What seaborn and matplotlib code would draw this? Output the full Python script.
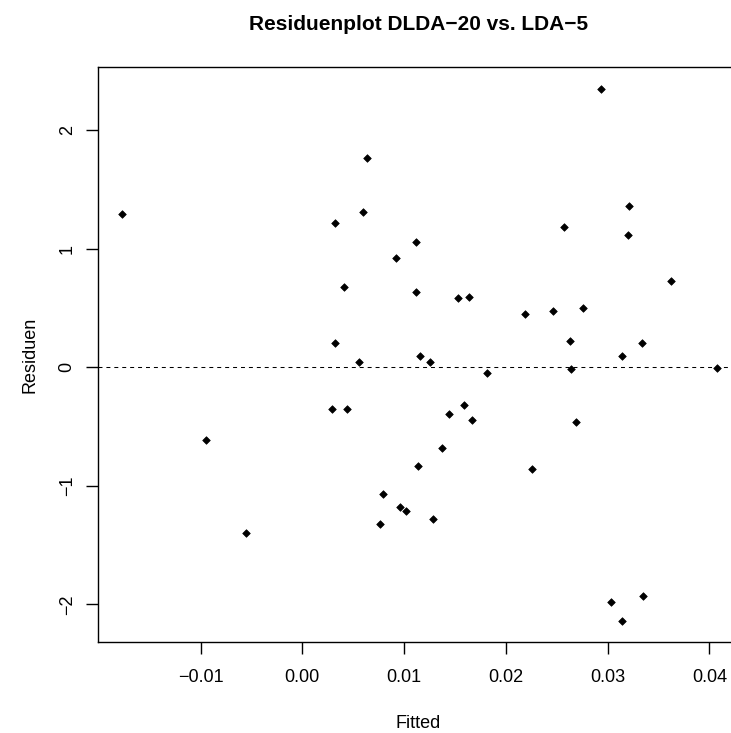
import matplotlib
matplotlib.use("Agg")
import matplotlib.pyplot as plt
import seaborn as sns
import pandas as pd

# fitted values (x) and residuals (y)
fitted = [
    -0.0177, -0.0095, -0.0055, 0.0029, 0.0032, 0.0032, 0.0041, 0.0044,
    0.0056, 0.0060, 0.0064, 0.0076, 0.0079, 0.0092, 0.0096, 0.0102,
    0.0112, 0.0112, 0.0114, 0.0116, 0.0125, 0.0128, 0.0137, 0.0144,
    0.0153, 0.0159, 0.0164, 0.0167, 0.0181, 0.0219, 0.0226, 0.0246,
    0.0257, 0.0263, 0.0264, 0.0269, 0.0276, 0.0293, 0.0303, 0.0314,
    0.0314, 0.0320, 0.0321, 0.0334, 0.0335, 0.0362, 0.0407,
]
residuen = [
    1.295, -0.610, -1.395, -0.349, 1.219, 0.205, 0.680, -0.354,
    0.047, 1.307, 1.762, -1.324, -1.066, 0.919, -1.175, -1.212,
    0.632, 1.059, -0.832, 0.098, 0.045, -1.282, -0.680, -0.394,
    0.587, -0.318, 0.593, -0.444, -0.045, 0.452, -0.855, 0.475,
    1.183, 0.222, -0.014, -0.464, 0.497, 2.344, -1.976, -2.139,
    0.098, 1.118, 1.360, 0.202, -1.931, 0.728, -0.003,
]
x_ticks = [-0.01, 0.00, 0.01, 0.02, 0.03, 0.04]
x_ticklabels = ["\u22120.01", "0.00", "0.01", "0.02", "0.03", "0.04"]
y_ticks = [-2, -1, 0, 1, 2]
y_ticklabels = ["\u22122", "\u22121", "0", "1", "2"]

df = pd.DataFrame({"Fitted": fitted, "Residuen": residuen})

sns.set_theme(style="ticks")
plt.rcParams["font.family"] = ["Liberation Sans", "DejaVu Sans"]

W, H = 731, 733
fig = plt.figure(figsize=(W / 100, H / 100), dpi=100, facecolor="white")
# R-style plot region; right edge runs past the image border like the original
left, right, top, bottom = 98.3, 738.5, 67.3, 641.7
ax = fig.add_axes([left / W, 1 - bottom / H, (right - left) / W, (bottom - top) / H])
ax.set_facecolor("white")

sns.scatterplot(
    data=df, x="Fitted", y="Residuen", ax=ax,
    marker="D", s=15, color="black", edgecolor="black", linewidth=0.5,
)
ax.axhline(0, color="black", linewidth=0.75, dashes=(3.8, 3.8), zorder=1)

ax.set_xlim(-0.02005, 0.04286)
ax.set_ylim(-2.314, 2.53)

ax.set_xticks(x_ticks)
ax.set_xticklabels(x_ticklabels)
ax.set_yticks(y_ticks)
ax.set_yticklabels(y_ticklabels, rotation=90, va="center")

for sp in ax.spines.values():
    sp.set_visible(True)
    sp.set_color("black")
    sp.set_linewidth(1.0)

ax.tick_params(axis="both", direction="out", length=8.3, width=1.0,
               color="black", labelsize=13, labelcolor="black")
ax.tick_params(axis="x", pad=11)
ax.tick_params(axis="y", pad=8)

ax.set_xlabel("Fitted", fontsize=13, color="black")
ax.set_ylabel("Residuen", fontsize=13, color="black")
ax.xaxis.set_label_coords(0.5, (bottom - 715) / (bottom - top))
ax.yaxis.set_label_coords((38.5 - left) / (right - left), 0.5)

fig.text((left + right) / 2 / W, 1 - 30 / H, "Residuenplot DLDA\u221220 vs. LDA\u22125",
         ha="center", va="baseline", fontsize=15, fontweight="bold", color="black")

fig.savefig("out.png", dpi=100, facecolor="white")
